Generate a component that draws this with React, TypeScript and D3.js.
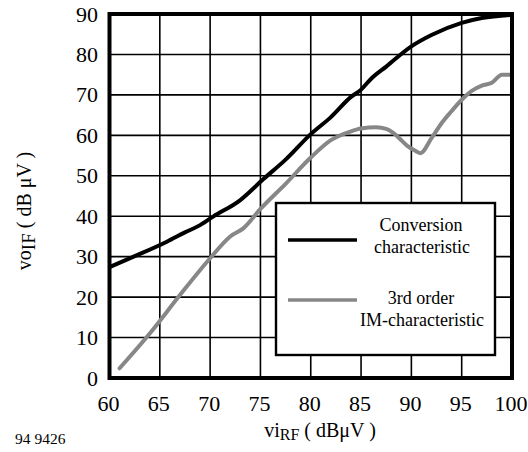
import React from "react";
import * as d3 from "d3";

const xTicks = [60, 65, 70, 75, 80, 85, 90, 95, 100];
const yTicks = [0, 10, 20, 30, 40, 50, 60, 70, 80, 90];

const convX = [60, 62.4, 65.7, 67.5, 69, 70.3, 73, 75.3, 77.5, 80, 82, 84, 85, 86, 87.5, 90, 92, 95, 97, 100];
const convY = [27.4, 30, 33.7, 36, 37.8, 39.9, 44, 49.2, 54, 60.3, 64.5, 69.5, 71.3, 74, 77, 82, 84.8, 87.8, 89, 89.8];

const imX = [61, 64, 67, 70, 72, 73.3, 75, 77.5, 80, 82, 84, 85, 86.5, 87.5, 88.2, 89, 89.6, 90.3, 90.9, 92, 93, 94, 95, 96, 97, 98, 99, 100];
const imY = [2.4, 11, 20.5, 29.6, 35, 37, 41.8, 48, 54.5, 58.8, 61, 61.7, 62, 61.6, 60.6, 58.8, 57.4, 56.3, 55.6, 59.3, 63, 66, 68.8, 71, 72.3, 73, 75, 75];

const legendLabels = [["Conversion", "characteristic"], ["3rd order", "IM-characteristic"]];
const colors = ["#000000", "#878787"];

const FONT = '"Liberation Serif"';

export default function App() {
  const W = 528, H = 452;
  const x = d3.scaleLinear().domain([60, 100]).range([109.5, 512]);
  const y = d3.scaleLinear().domain([0, 90]).range([378, 14]);
  const line = d3
    .line<[number, number]>()
    .x((d) => x(d[0]))
    .y((d) => y(d[1]))
    .curve(d3.curveMonotoneX);
  const conv: [number, number][] = convX.map((v, i) => [v, convY[i]]);
  const im: [number, number][] = imX.map((v, i) => [v, imY[i]]);
  const ts = { fontFamily: FONT };

  const lg = { x0: 276, y0: 203, x1: 495, y1: 355 };

  return (
    <svg width={W} height={H} style={{ position: "absolute", left: 0, top: 0, background: "#fff" }}>
      <rect x={0} y={0} width={W} height={H} fill="#fff" />
      {xTicks.map((t) => (
        <line key={"gx" + t} x1={x(t)} x2={x(t)} y1={y(0)} y2={y(90)} stroke="#000" strokeWidth={1.6} />
      ))}
      {yTicks.map((t) => (
        <line key={"gy" + t} x1={x(60)} x2={x(100)} y1={y(t)} y2={y(t)} stroke="#000" strokeWidth={1.6} />
      ))}
      <path d={line(im) || ""} fill="none" stroke={colors[1]} strokeWidth={4} strokeLinejoin="round" strokeLinecap="round" />
      <path d={line(conv) || ""} fill="none" stroke={colors[0]} strokeWidth={4} strokeLinejoin="round" />
      <rect x={x(60)} y={y(90)} width={x(100) - x(60)} height={y(0) - y(90)} fill="none" stroke="#000" strokeWidth={4} />

      <rect x={lg.x0} y={lg.y0} width={lg.x1 - lg.x0} height={lg.y1 - lg.y0} fill="#fff" stroke="#000" strokeWidth={2.4} />
      <line x1={288} x2={357} y1={240} y2={240} stroke={colors[0]} strokeWidth={3.3} />
      <line x1={288} x2={357} y1={300} y2={300} stroke={colors[1]} strokeWidth={3.3} />
      <text style={ts} fontSize={18} textAnchor="middle" x={421} y={231}>{legendLabels[0][0]}</text>
      <text style={ts} fontSize={18} textAnchor="middle" x={422} y={253}>{legendLabels[0][1]}</text>
      <text style={ts} fontSize={18} textAnchor="middle" x={421} y={304}>{legendLabels[1][0]}</text>
      <text style={ts} fontSize={18} textAnchor="middle" x={422} y={326}>{legendLabels[1][1]}</text>

      {yTicks.map((t) => (
        <text style={ts} fontSize={22} key={"ty" + t} x={98} y={y(t) + 7.5} textAnchor="end">
          {t}
        </text>
      ))}
      {xTicks.map((t) => (
        <text style={ts} fontSize={22} key={"tx" + t} x={x(t) - 1} y={411} textAnchor="middle">
          {t}
        </text>
      ))}

      <text style={ts} x={15} y={443.5} fontSize={15.5}>94 9426</text>

      <text style={ts} x={320} y={437} fontSize={20} textAnchor="middle">
        vi<tspan fontSize={16} dy={3}>RF</tspan>
        <tspan dy={-3}> ( dBμV )</tspan>
      </text>

      <text style={ts} transform="translate(31,211) rotate(-90)" fontSize={20} textAnchor="middle">
        vo<tspan fontSize={19} dy={4}>IF</tspan>
        <tspan dy={-4}> ( dB μV )</tspan>
      </text>
    </svg>
  );
}
